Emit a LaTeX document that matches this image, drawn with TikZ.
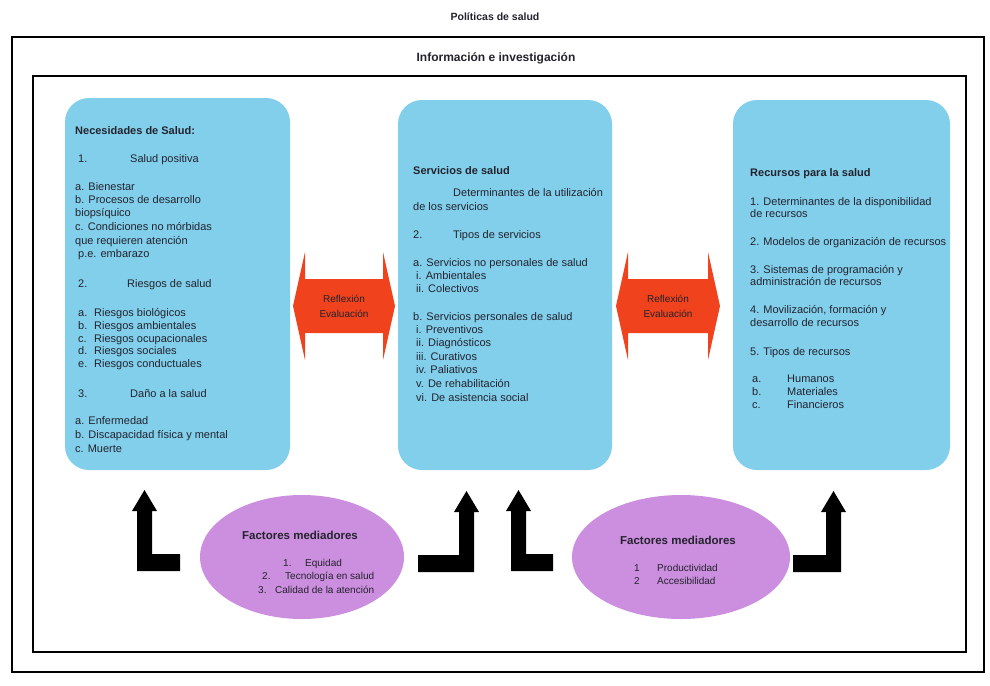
\documentclass[tikz,border=0pt]{standalone}
\usepackage{fontspec}
\setmainfont{Liberation Sans}
\usetikzlibrary{shapes.geometric}
\definecolor{boxblue}{RGB}{130,207,236}
\definecolor{arrowred}{RGB}{240,66,28}
\definecolor{ellpurple}{RGB}{204,142,222}
\definecolor{txtcol}{RGB}{35,35,45}
\begin{document}
\begin{tikzpicture}[x=1pt,y=-1pt,
  txt/.style={anchor=base west, inner sep=0pt, font=\fontsize{11}{13}\selectfont, text=txtcol},
  hdr/.style={txt, font=\fontsize{11}{13}\selectfont\bfseries},
  ctxt/.style={txt, anchor=base},
  chdr/.style={hdr, anchor=base},
  etxt/.style={txt, font=\fontsize{10}{12}\selectfont},
  bluebox/.style={fill=boxblue, draw=none, rounded corners=24pt, inner sep=0pt},
  ellnode/.style={ellipse, fill=ellpurple, draw=none, inner sep=0pt},
  pics/bentarrow/.style={code={
    \fill[black] (0,0) -- (#1,0) -- (#1,-17) -- (15,-17) -- (15,-60) -- (20,-60)
      -- (7.5,-81) -- (-5,-60) -- (0,-60) -- cycle;}},
  pics/dblarrow/.style={code={
    \fill[arrowred] (-#1,0) -- (-#1+12,-54) -- (-#1+12,-27) -- (#1-12,-27) -- (#1-12,-54)
      -- (#1,0) -- (#1-12,54) -- (#1-12,27) -- (-#1+12,27) -- (-#1+12,54) -- cycle;}}
]
\useasboundingbox (0,0) rectangle (990,685);
\fill[white] (0,0) rectangle (990,685);

% frames
\node[chdr, font=\fontsize{10.5}{12}\selectfont\bfseries] (title) at (495,21) {Políticas de salud};
\draw[line width=2pt] (12,37) rectangle (984,672);
\node[chdr, font=\fontsize{12}{14}\selectfont\bfseries] (info) at (496,62) {Información e investigación};
\draw[line width=1.6pt] (33,76) rectangle (966,652);

% blue boxes
\node[bluebox, minimum width=225pt, minimum height=372pt] (need) at (177.5,284) {};
\node[bluebox, minimum width=214pt, minimum height=370pt] (serv) at (505,285) {};
\node[bluebox, minimum width=217pt, minimum height=370pt] (rec) at (841.5,285) {};

% left box text
\node[hdr] (n0) at (75,134) {Necesidades de Salud:};
\node[txt] (n1) at (78,162) {\makebox[52pt][l]{1.}Salud positiva};
\node[txt] (n2) at (75,190) {a. Bienestar};
\node[txt] (n3) at (75,203) {b. Procesos de desarrollo};
\node[txt] (n4) at (75,216) {biopsíquico};
\node[txt] (n5) at (75,230) {c. Condiciones no mórbidas};
\node[txt] (n6) at (75,244) {que requieren atención};
\node[txt] (n7) at (78,257) {p.e. embarazo};
\node[txt] (n8) at (78,287) {\makebox[49pt][l]{2.}Riesgos de salud};
\node[txt] (n9) at (78,316) {\makebox[16pt][l]{a.}Riesgos biológicos};
\node[txt] (n10) at (78,329) {\makebox[16pt][l]{b.}Riesgos ambientales};
\node[txt] (n11) at (78,342) {\makebox[16pt][l]{c.}Riesgos ocupacionales};
\node[txt] (n12) at (78,354) {\makebox[16pt][l]{d.}Riesgos sociales};
\node[txt] (n13) at (78,367) {\makebox[16pt][l]{e.}Riesgos conductuales};
\node[txt] (n14) at (78,397) {\makebox[52pt][l]{3.}Daño a la salud};
\node[txt] (n15) at (75,424) {a. Enfermedad};
\node[txt] (n16) at (75,438) {b. Discapacidad física y mental};
\node[txt] (n17) at (75,452) {c. Muerte};

% middle box text
\node[hdr] (s0) at (413,174) {Servicios de salud};
\node[txt] (s1) at (453,196) {Determinantes de la utilización};
\node[txt] (s2) at (413,210) {de los servicios};
\node[txt] (s3) at (413,238) {\makebox[40pt][l]{2.}Tipos de servicios};
\node[txt] (s4) at (413,266) {a. Servicios no personales de salud};
\node[txt] (s5) at (416,279) {i. Ambientales};
\node[txt] (s6) at (416,292) {ii. Colectivos};
\node[txt] (s7) at (413,320) {b. Servicios personales de salud};
\node[txt] (s8) at (416,333) {i. Preventivos};
\node[txt] (s9) at (416,346) {ii. Diagnósticos};
\node[txt] (s10) at (416,360) {iii. Curativos};
\node[txt] (s11) at (416,373) {iv. Paliativos};
\node[txt] (s12) at (416,387) {v. De rehabilitación};
\node[txt] (s13) at (416,401) {vi. De asistencia social};

% right box text
\node[hdr] (r0) at (750,176) {Recursos para la salud};
\node[txt] (r1) at (750,205) {1. Determinantes de la disponibilidad};
\node[txt] (r2) at (750,217) {de recursos};
\node[txt] (r3) at (750,245) {2. Modelos de organización de recursos};
\node[txt] (r4) at (750,273) {3. Sistemas de programación y};
\node[txt] (r5) at (750,285) {administración de recursos};
\node[txt] (r6) at (750,313) {4. Movilización, formación y};
\node[txt] (r7) at (750,326) {desarrollo de recursos};
\node[txt] (r8) at (750,355) {5. Tipos de recursos};
\node[txt] (r9) at (752,382) {\makebox[35pt][l]{a.}Humanos};
\node[txt] (r10) at (752,395) {\makebox[35pt][l]{b.}Materiales};
\node[txt] (r11) at (752,408) {\makebox[35pt][l]{c.}Financieros};

% red double arrows
\pic at (344,306) {dblarrow=51};
\node[ctxt, font=\fontsize{10}{12}\selectfont] (refl1) at (344,302.5) {Reflexión};
\node[ctxt, font=\fontsize{10}{12}\selectfont] (eval1) at (344,317) {Evaluación};
\pic at (668,306) {dblarrow=52};
\node[ctxt, font=\fontsize{10}{12}\selectfont] (refl2) at (668,302.5) {Reflexión};
\node[ctxt, font=\fontsize{10}{12}\selectfont] (eval2) at (668,317) {Evaluación};

% ellipses
\node[ellnode, minimum width=204pt, minimum height=124pt] (fm1) at (302,557) {};
\node[chdr, font=\fontsize{11.5}{13}\selectfont\bfseries] (fm1t) at (300,539) {Factores mediadores};
\node[etxt] (fm1a) at (283,566) {\makebox[22pt][l]{1.}Equidad};
\node[etxt] (fm1b) at (262,579) {\makebox[23pt][l]{2.}Tecnología en salud};
\node[etxt] (fm1c) at (258,593) {\makebox[17pt][l]{3.}Calidad de la atención};

\node[ellnode, minimum width=218pt, minimum height=124pt] (fm2) at (681,557) {};
\node[chdr, font=\fontsize{11.5}{13}\selectfont\bfseries] (fm2t) at (678,544) {Factores mediadores};
\node[etxt] (fm2a) at (634,571) {\makebox[23pt][l]{1}Productividad};
\node[etxt] (fm2b) at (634,584) {\makebox[23pt][l]{2}Accesibilidad};

% bent arrows
\pic at (137,571) {bentarrow=43};
\pic[xscale=-1] at (474,572) {bentarrow=56};
\pic at (511,571) {bentarrow=42};
\pic[xscale=-1] at (841,572) {bentarrow=48};
\end{tikzpicture}
\end{document}
